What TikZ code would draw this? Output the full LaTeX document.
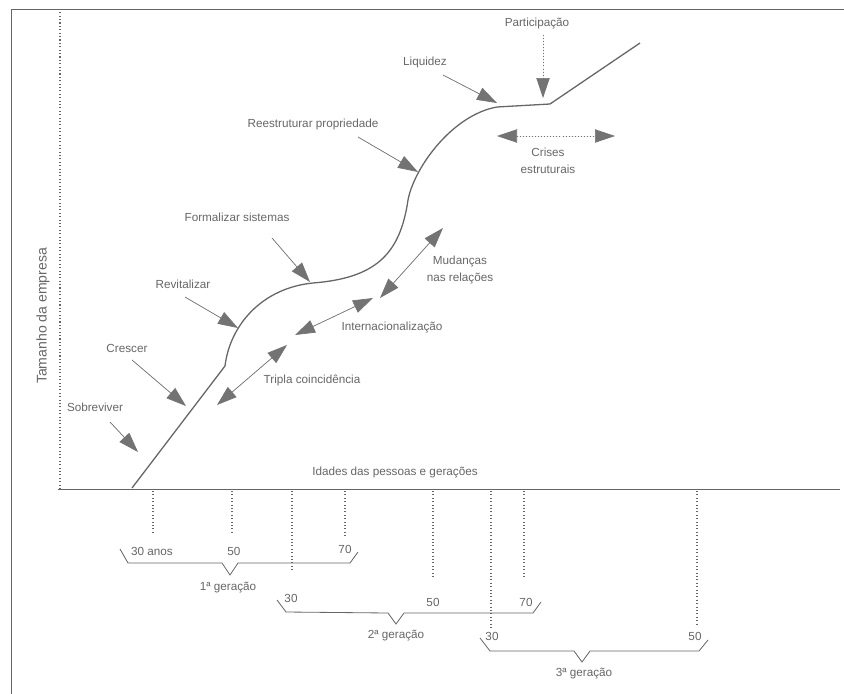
\documentclass[tikz,border=0pt]{standalone}
\usepackage{fontspec}
\setmainfont{Liberation Sans}
\usetikzlibrary{arrows.meta}
\begin{document}
\begin{tikzpicture}[x=0.3mm, y=-0.3mm, >={Triangle[length=6mm,width=4mm]},
  every node/.style={text=black!60, font=\fontsize{10}{14}\selectfont, inner sep=1pt},
  curve/.style={draw=black!60, line width=1.1pt},
  pointer/.style={->, draw=black!55, fill=black!45, line width=0.6pt},
  twoway/.style={<->, draw=black!55, fill=black!45, line width=0.6pt},
  guide/.style={draw=black!60, dotted, line width=0.9pt},
  brace/.style={draw=black!60, line width=0.7pt}]
\useasboundingbox (0,0) rectangle (844,694);
\draw[black!60, line width=0.8pt] (11,694) -- (11,9) -- (844,9);
\coordinate (o) at (60,489);
\coordinate (ytop) at (60,10);
\coordinate (xleft) at (58,489);
\coordinate (xright) at (840,489);
\draw[guide] (o) -- (ytop);
\draw[brace] (xleft) -- (xright);
\node[rotate=90, font=\fontsize{12}{14}\selectfont] (tamanho) at (43,316) {Tamanho da empresa};
\node (idades) at (395,472) {Idades das pessoas e gerações};
\foreach \x/\y in {153/535, 232/535, 292/572, 345/537, 433/577, 491/628, 524/577, 697/625}
  \draw[guide] (\x,491) -- (\x,\y);
\coordinate (s0) at (132,488);
\coordinate (s1) at (225,366);
\coordinate (s2) at (313,283);
\coordinate (s3) at (408,200);
\coordinate (s4) at (497,107);
\coordinate (s5) at (550,104);
\coordinate (s6) at (640,43);
\draw[curve] (s0) -- (s1) .. controls (230,325) and (262,288) .. (s2)
  .. controls (375,278) and (400,255) .. (s3)
  .. controls (414,168) and (452,115) .. (s4) -- (s5) -- (s6);
\node (sobreviver) at (95,407) {Sobreviver};
\coordinate (sobreviver-a) at (110,422);
\coordinate (sobreviver-b) at (138,452);
\draw[pointer] (sobreviver-a) -- (sobreviver-b);
\node (crescer) at (127,348) {Crescer};
\coordinate (crescer-a) at (132,360);
\coordinate (crescer-b) at (186,406);
\draw[pointer] (crescer-a) -- (crescer-b);
\node (revitalizar) at (183,284) {Revitalizar};
\coordinate (revitalizar-a) at (185,297);
\coordinate (revitalizar-b) at (238,328);
\draw[pointer] (revitalizar-a) -- (revitalizar-b);
\node (formalizar) at (237,217) {Formalizar sistemas};
\coordinate (formalizar-a) at (272,238);
\coordinate (formalizar-b) at (310,282);
\draw[pointer] (formalizar-a) -- (formalizar-b);
\node (reestruturar) at (313,124) {Reestruturar propriedade};
\coordinate (reestruturar-a) at (358,137);
\coordinate (reestruturar-b) at (418,172);
\draw[pointer] (reestruturar-a) -- (reestruturar-b);
\node (liquidez) at (425,62) {Liquidez};
\coordinate (liquidez-a) at (443,75);
\coordinate (liquidez-b) at (497,103);
\draw[pointer] (liquidez-a) -- (liquidez-b);
\node (participacao) at (537,23) {Participação};
\coordinate (participacao-a) at (543,35);
\coordinate (participacao-b) at (543,98);
\draw[pointer, dotted] (participacao-a) -- (participacao-b);
\node[align=center] (crises) at (548,161) {Crises\\estruturais};
\coordinate (crises-a) at (497,136);
\coordinate (crises-b) at (615,136);
\draw[twoway, dotted] (crises-a) -- (crises-b);
\node[align=center] (mudancas) at (460,270) {Mudanças\\nas relações};
\coordinate (mudancas-a) at (380,298);
\coordinate (mudancas-b) at (443,228);
\draw[twoway] (mudancas-a) -- (mudancas-b);
\node (internacional) at (392,327) {Internacionalização};
\coordinate (internacional-a) at (295,335);
\coordinate (internacional-b) at (373,298);
\draw[twoway] (internacional-a) -- (internacional-b);
\node (tripla) at (312,380) {Tripla coincidência};
\coordinate (tripla-a) at (217,405);
\coordinate (tripla-b) at (287,345);
\draw[twoway] (tripla-a) -- (tripla-b);
\node (g1-30) at (152,551) {30 anos};
\node (g1-50) at (234,551) {50};
\node (g1-70) at (345,549) {70};
\node (g1) at (228,588) {1ª geração};
\draw[brace] (120,549) -- (128,563) -- (222,563) -- (230,575) -- (238,563) -- (350,563) -- (358,552);
\node (g2-30) at (291,598) {30};
\node (g2-50) at (433,602) {50};
\node (g2-70) at (526,602) {70};
\node (g2) at (396,636) {2ª geração};
\draw[brace] (277,600) -- (286,612) -- (388,613) -- (396,624) -- (404,613) -- (533,613) -- (541,602);
\node (g3-30) at (492,636) {30};
\node (g3-50) at (695,636) {50};
\node (g3) at (584,674) {3ª geração};
\draw[brace] (480,638) -- (490,651) -- (574,651) -- (582,662) -- (590,651) -- (699,651) -- (708,640);
\end{tikzpicture}
\end{document}
